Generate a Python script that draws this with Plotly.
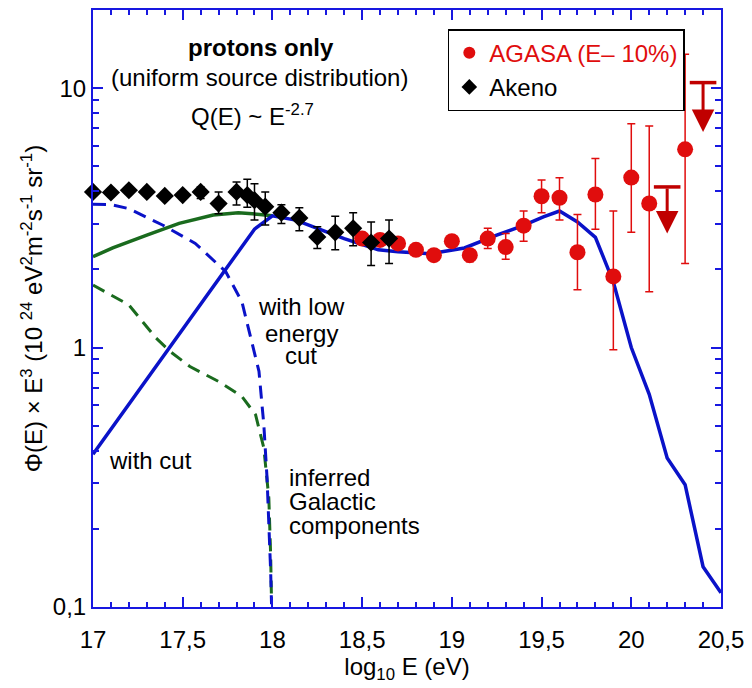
import numpy as np
import plotly.graph_objects as go

# ---------------- data ----------------
# Akeno (black diamonds)
akeno_x = [17.0, 17.1, 17.2, 17.3, 17.4, 17.5, 17.6, 17.7, 17.8, 17.86, 17.9, 17.96,
           18.05, 18.15, 18.25, 18.35, 18.45, 18.55, 18.65]
akeno_y = [3.98, 3.96, 4.04, 3.98, 3.84, 3.87, 3.98, 3.59, 3.98, 3.87, 3.70, 3.49,
           3.31, 3.16, 2.67, 2.78, 2.88, 2.54, 2.63]
akeno_up = [0, 0, 0, 0, 0, 0, 0.18, 0.39, 0.37, 0.58, 0.58, 0.49,
            0.24, 0.30, 0.25, 0.43, 0.43, 0.51, 0.47]
akeno_dn = [0, 0, 0, 0, 0, 0, 0.23, 0.31, 0.44, 0.40, 0.60, 0.52,
            0.30, 0.34, 0.26, 0.40, 0.41, 0.47, 0.52]

# AGASA (red circles)
agasa_x = [18.5, 18.6, 18.7, 18.8, 18.9, 19.0, 19.1, 19.2, 19.3, 19.4, 19.5, 19.6,
           19.7, 19.8, 19.9, 20.0, 20.1, 20.3]
agasa_y = [2.63, 2.60, 2.52, 2.38, 2.27, 2.57, 2.27, 2.63, 2.44, 2.95, 3.83, 3.78,
           2.33, 3.89, 1.88, 4.52, 3.59, 5.81]
agasa_up = [0, 0, 0, 0, 0, 0, 0.08, 0.25, 0.31, 0.41, 0.59, 0.73,
            0.93, 1.46, 1.48, 2.77, 3.55, 7.7]
agasa_dn = [0, 0, 0, 0, 0, 0, 0.13, 0.22, 0.25, 0.38, 0.52, 0.68,
            0.66, 1.03, 0.90, 1.74, 1.95, 3.70]

# AGASA upper limits: x, cap value, arrow tip value
ul_x = [20.2, 20.4]
ul_cap = [4.16, 10.5]
ul_tip = [2.75, 6.77]

# model curves
with_cut_x = [17.0, 17.9, 18.0, 18.13, 18.25, 18.4, 18.59, 18.7, 18.88, 19.07, 19.25,
              19.4, 19.51, 19.6, 19.7, 19.8, 19.9, 20.0, 20.1, 20.2, 20.3, 20.4, 20.5]
with_cut_y = [0.388, 2.86, 3.22, 3.10, 2.88, 2.63, 2.38, 2.34, 2.30, 2.42, 2.71,
              2.96, 3.19, 3.36, 3.05, 2.66, 1.79, 1.0, 0.66, 0.375, 0.296, 0.143, 0.1135]

low_cut_x = [17.0, 17.11, 17.3, 17.48, 17.67, 17.81, 17.93, 18.0]
low_cut_y = [2.24, 2.42, 2.71, 3.01, 3.24, 3.31, 3.26, 3.22]

gal_low_x = [17.0, 17.1, 17.2, 17.39, 17.57, 17.74, 17.83, 17.925, 17.952, 17.97, 17.99, 17.995]
gal_low_y = [3.57, 3.56, 3.43, 2.96, 2.52, 1.96, 1.50, 0.81, 0.504, 0.314, 0.138, 0.1025]

gal_cut_x = [17.0, 17.2, 17.35, 17.43, 17.54, 17.7, 17.83, 17.906, 17.952, 17.98, 17.99, 17.995]
gal_cut_y = [1.74, 1.46, 1.09, 0.965, 0.845, 0.74, 0.648, 0.551, 0.41, 0.263, 0.16, 0.105]

x_ticks = [17, 17.5, 18, 18.5, 19, 19.5, 20, 20.5]
x_ticktext = ["17", "17,5", "18", "18,5", "19", "19,5", "20", "20,5"]
y_ticks = [0.1, 1, 10]
y_ticktext = ["0,1", "1", "10"]

# ---------------- style ----------------
FONT = "Liberation Sans, Arial, sans-serif"
AXC = "#1818e0"
BLUE = "#0a12c8"
GREEN = "#1a6b1e"
RED = "#e00d0d"
DARKRED = "#c00000"
FS = 24

fig = go.Figure()

fig.add_trace(go.Scatter(x=gal_cut_x, y=gal_cut_y, mode="lines", showlegend=False,
                         line=dict(color=GREEN, width=3, dash="13px,8px")))
fig.add_trace(go.Scatter(x=gal_low_x, y=gal_low_y, mode="lines", showlegend=False,
                         line=dict(color=BLUE, width=3, dash="13px,8px")))
fig.add_trace(go.Scatter(x=low_cut_x, y=low_cut_y, mode="lines", showlegend=False,
                         line=dict(color=GREEN, width=3.5)))
fig.add_trace(go.Scatter(x=with_cut_x, y=with_cut_y, mode="lines", showlegend=False,
                         line=dict(color=BLUE, width=3.5)))

fig.add_trace(go.Scatter(
    x=agasa_x, y=agasa_y, mode="markers",
    name="<span style='color:%s'>AGASA (E– 10%%)</span>" % RED, legendrank=1,
    marker=dict(symbol="circle", size=16, color=RED),
    error_y=dict(type="data", symmetric=False, array=agasa_up, arrayminus=agasa_dn,
                 color=RED, thickness=1.5, width=4)))

fig.add_trace(go.Scatter(
    x=akeno_x, y=akeno_y, mode="markers", name="Akeno", legendrank=2,
    cliponaxis=False,
    marker=dict(symbol="diamond", size=14, color="black"),
    error_y=dict(type="data", symmetric=False, array=akeno_up, arrayminus=akeno_dn,
                 color="black", thickness=1.5, width=4)))

# upper limit caps
fig.add_trace(go.Scatter(x=ul_x, y=ul_cap, mode="markers", showlegend=False,
                         marker=dict(symbol="line-ew", size=19,
                                     line=dict(color=DARKRED, width=3.5))))
for xx, c, t in zip(ul_x, ul_cap, ul_tip):
    fig.add_annotation(x=xx, y=np.log10(t), ax=xx, ay=np.log10(c),
                       xref="x", yref="y", axref="x", ayref="y",
                       showarrow=True, arrowhead=2, arrowsize=1.5, arrowwidth=3,
                       arrowcolor=DARKRED, text="")

# text annotations (positions in data units)
def txt(x, ylog, s, anchor="center", size=FS):
    fig.add_annotation(x=x, y=ylog, xref="x", yref="y", text=s, showarrow=False,
                       xanchor=anchor, yanchor="middle",
                       font=dict(family=FONT, size=size, color="black"))

txt(17.936, 1.158, "<b>protons only</b>")
txt(17.93, 1.042, "(uniform source distribution)")
txt(17.535, 0.895, "Q(E) ~ E<sup>-2.7</sup>", anchor="left")
txt(18.16, 0.158, "with low")
txt(18.16, 0.053, "energy")
txt(18.16, -0.03, "cut")
txt(17.08, -0.435, "with cut", anchor="left")
txt(18.08, -0.5, "inferred", anchor="left")
txt(18.08, -0.595, "Galactic", anchor="left")
txt(18.08, -0.685, "components", anchor="left")

fig.update_layout(
    width=752, height=688,
    margin=dict(l=93, r=27, t=8, b=81),
    paper_bgcolor="white", plot_bgcolor="white",
    font=dict(family=FONT, size=FS, color="black"),
    showlegend=True,
    legend=dict(x=0.565, y=0.968, xanchor="left", yanchor="top",
                bordercolor="black", borderwidth=1.5, bgcolor="white",
                font=dict(family=FONT, size=FS), tracegroupgap=0,
                itemsizing="constant"),
    xaxis=dict(range=[17, 20.5], tickvals=x_ticks, ticktext=x_ticktext,
               showgrid=False, zeroline=False,
               showline=True, linecolor=AXC, linewidth=2, mirror="allticks",
               ticks="inside", ticklen=10, tickwidth=2, tickcolor=AXC,
               ticklabelstandoff=10,
               minor=dict(tick0=17, dtick=0.1, ticks="inside", ticklen=5,
                          tickwidth=1.5, tickcolor=AXC, showgrid=False),
               tickfont=dict(family=FONT, size=FS, color="black"),
               title=dict(text="log<sub>10</sub> E (eV)", standoff=2,
                          font=dict(family=FONT, size=FS, color="black"))),
    yaxis=dict(type="log", range=[-1, np.log10(20)], tickvals=y_ticks, ticktext=y_ticktext,
               showgrid=False, zeroline=False,
               showline=True, linecolor=AXC, linewidth=2, mirror="allticks",
               ticks="inside", ticklen=10, tickwidth=2, tickcolor=AXC,
               minor=dict(tickvals=[0.2, 0.3, 0.4, 0.5, 0.6, 0.7, 0.8, 0.9,
                                    2, 3, 4, 5, 6, 7, 8, 9],
                          ticks="inside", ticklen=6, tickwidth=1.5, tickcolor=AXC,
                          showgrid=False),
               tickfont=dict(family=FONT, size=FS, color="black"),
               title=dict(text="Φ(E) × E<sup>3</sup> (10 <sup>24</sup> eV<sup>2</sup>m<sup>-2</sup>s<sup>-1</sup> sr<sup>-1</sup>)",
                          standoff=3,
                          font=dict(family=FONT, size=FS, color="black"))),
)

fig.write_html("out.html")
